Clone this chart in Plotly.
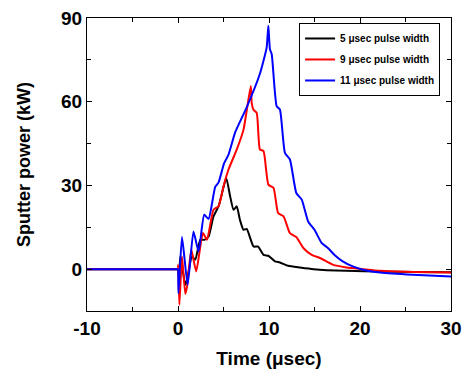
import plotly.graph_objects as go

# 5 usec pulse width
t5 = [-10, -5, -0.05, 0, 0.1, 0.25, 0.5, 0.8, 1.0, 1.53, 1.9, 2.45, 2.9, 3.36, 3.9, 4.45, 4.8, 5.3, 5.73, 6.1, 6.46,
      6.8, 7.2, 7.55, 8.3, 8.8, 9.4, 9.93, 10.65, 11.2, 12.1, 13.4, 14.9, 18.5, 22.2, 26, 30]
p5 = [0, 0, 0, 0, -3, 4.5, 0, -5.6, -3.8, 4.5, 3.4, 10.5, 10.5, 11.7, 18.9, 22.5, 26.7, 32.7, 26.1, 21.3, 22.5,
      17.7, 14.1, 14.4, 8.1, 8.1, 5.1, 4.8, 2.8, 2.4, 1.2, 0.6, 0.0, -0.6, -0.8, -1.0, -1.1]

# 9 usec pulse width
t9 = [-10, -5, -0.05, 0, 0.02, 0.15, 0.44, 0.8, 1.0, 1.46, 2.0, 2.74, 3.18, 3.9, 4.45, 5.0, 5.55, 6.46, 7.2, 8.0, 8.1,
      8.28, 8.65, 9.0, 9.4, 9.93, 10.5, 11.0, 11.6, 12.3, 13.0, 13.8, 14.7, 15.6, 17.0, 18.5, 20.3, 22.2, 25.8, 30]
p9 = [0, 0, 0, 0, 1.5, -12.8, 4.5, -8.9, -6.2, 7.0, -0.8, 13.0, 10.5, 21.3, 22.5, 29.7, 35.7, 42.9, 50.0, 65.6, 59.6,
      57.2, 56.0, 42.9, 42.3, 30.3, 29.1, 20.1, 18.9, 12.9, 11.5, 7.5, 5.1, 4.0, 1.6, 0.6, 0.0, -0.6, -1.0, -1.2]

# 11 usec pulse width
t11 = [-10, -5, -0.05, 0, 0.05, 0.44, 1.06, 1.7, 2.26, 2.88, 3.36, 4.09, 4.45, 5.07, 5.55, 6.28, 7.55, 9.0, 9.74, 9.93,
       10.1, 10.3, 10.84, 11.2, 11.75, 12.3, 13.0, 13.6, 14.3, 15.0, 15.8, 16.5, 17.2, 18.1, 19.2, 20.7, 22.2, 25.8, 30]
p11 = [0, 0, 0, 0, -8.6, 11.5, -5.6, 13.5, 6.3, 19.5, 18.0, 29.5, 31.0, 38.0, 41.0, 49.0, 58.0, 70.0, 79.4, 87.2,
       78.8, 77.0, 58.4, 57.2, 41.7, 39.3, 27.3, 24.9, 17.1, 14.1, 9.3, 7.5, 5.1, 2.8, 1.0, -0.5, -1.2, -2.0, -2.6]

names = ["5 \u03bcsec pulse width", "9 \u03bcsec pulse width", "11 \u03bcsec pulse width"]
colors = ["#000000", "#ff0000", "#0000ff"]

x_tickvals = [-10, 0, 10, 20, 30]
x_ticktext = ["-10", "0", "10", "20", "30"]
y_tickvals = [0, 30, 60, 90]
y_ticktext = ["0", "30", "60", "90"]

fig = go.Figure()
for i, (t, p, n, c) in enumerate(zip([t5, t9, t11], [p5, p9, p11], names, colors)):
    fig.add_trace(go.Scatter(x=t, y=p, mode="lines", name=n, legendgroup=f"g{i}",
                             line=dict(color=c, width=2, shape="spline", smoothing=0.5)))

axis_common = dict(
    showline=True, linecolor="black", linewidth=1, mirror="allticks",
    ticks="inside", ticklen=5, tickwidth=1, tickcolor="black",
    showgrid=False, zeroline=False, automargin=False,
    tickfont=dict(family="Liberation Sans, Arial", size=19, color="black", weight="bold"),
)

fig.update_layout(
    width=468, height=376,
    margin=dict(l=87, r=17, t=18, b=65),
    plot_bgcolor="white", paper_bgcolor="white",
    font=dict(family="Liberation Sans, Arial", color="black"),
    showlegend=True,
    legend=dict(
        x=0.97, y=0.983, xanchor="right", yanchor="top",
        bgcolor="white", bordercolor="black", borderwidth=1,
        font=dict(family="Liberation Sans, Arial", size=10, color="black", weight="bold"),
        itemwidth=30, tracegroupgap=2,
    ),
)
fig.update_xaxes(range=[-10, 30], tickmode="array", tickvals=x_tickvals, ticktext=x_ticktext,
                 minor=dict(dtick=5, tick0=0, ticks="inside", ticklen=4, tickcolor="black"),
                 title=dict(text="Time (\u03bcsec)", font=dict(size=19, weight="bold"), standoff=13),
                 **axis_common)
fig.update_yaxes(range=[-15, 90], tickmode="array", tickvals=y_tickvals, ticktext=y_ticktext,
                 minor=dict(dtick=15, tick0=0, ticks="inside", ticklen=4, tickcolor="black"),
                 title=dict(text="Sputter power (kW)", font=dict(size=18, weight="bold"), standoff=25),
                 **axis_common)

fig.write_html("out.html", config={"displayModeBar": False},
               post_script="document.body.style.margin='0px';document.body.style.overflow='hidden';")
